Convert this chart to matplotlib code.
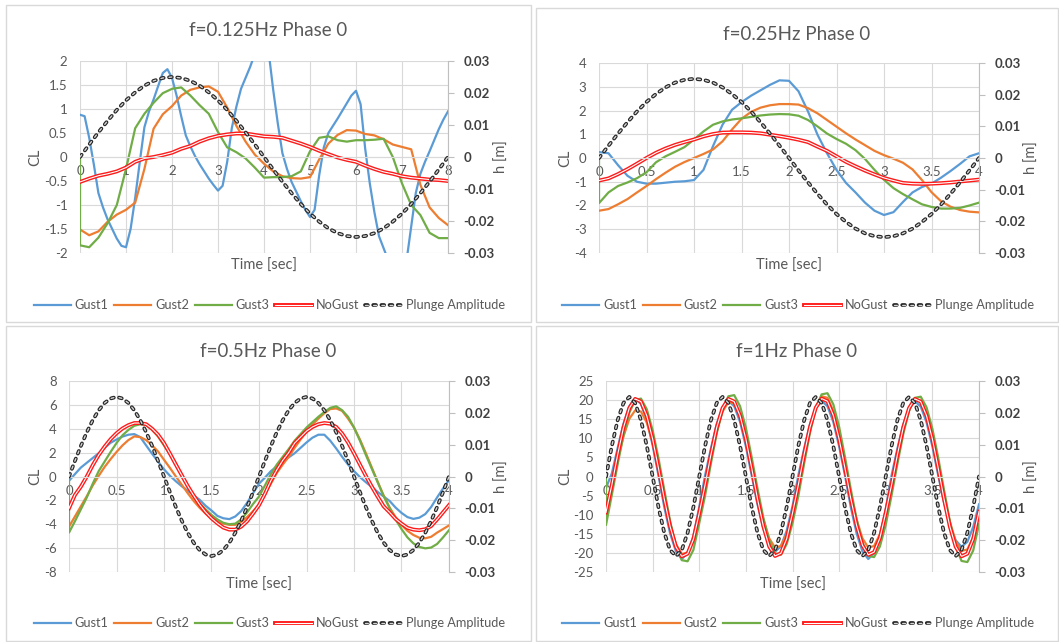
import matplotlib
matplotlib.use("Agg")
import matplotlib.pyplot as plt
import numpy as np
from matplotlib.legend_handler import HandlerTuple
from matplotlib.patches import Rectangle

plt.rcParams['font.family'] = ['Lato', 'DejaVu Sans']
plt.rcParams['lines.scale_dashes'] = False

W, H = 1059, 642
TXT = '#595959'
GRID = '#d9d9d9'
C_G1 = '#5b9bd5'
C_G2 = '#ed7d31'
C_G3 = '#70ad47'
C_NG = '#ff1a1a'

labels = ['Gust1', 'Gust2', 'Gust3', 'NoGust', 'Plunge Amplitude']

# ---------------- f = 0.125 Hz (0..8 s, every 0.2 s; Gust1 every 0.1 s) ----------------
t1 = np.linspace(0, 8, 41)
t1_fine = np.linspace(0, 8, 81)
g1_p1 = [0.88, 0.85, 0.4, -0.15, -0.75, -1.05, -1.3, -1.5, -1.7, -1.85,
         -1.88, -1.5, -0.85, -0.1, 0.62, 0.95, 1.2, 1.48, 1.75, 1.83,
         1.65, 1.28, 0.85, 0.45, 0.22, 0.02, -0.15, -0.3, -0.45, -0.58,
         -0.7, -0.6, -0.1, 0.6, 1.05, 1.42, 1.65, 1.88, 2.15, 2.4,
         2.5, 2.2, 1.4, 0.7, 0.08, -0.25, -0.52, -0.72, -0.92, -1.1,
         -1.25, -1.1, -0.38, 0.2, 0.5, 0.65, 0.8, 0.96, 1.12, 1.28,
         1.38, 1.1, 0.17, -0.55, -1.15, -1.65, -1.9, -2.15, -2.4, -2.5,
         -2.45, -2.15, -1.45, -0.75, -0.35, -0.1, 0.12, 0.35, 0.58, 0.78,
         0.95]
g2_p1 = [-1.51, -1.63, -1.55, -1.35, -1.2, -1.1, -0.95, -0.25, 0.59, 0.89, 1.06,
         1.28, 1.4, 1.45, 1.47, 1.36, 1.03, 0.65, 0.32, 0.05, -0.14,
         -0.3, -0.4, -0.44, -0.45, -0.42, -0.05, 0.28, 0.46, 0.56, 0.55,
         0.48, 0.45, 0.37, 0.26, 0.21, 0.16, -0.58, -1.05, -1.27, -1.42]
# Gust3 starts at 0 and jumps at t=0 (extra leading point)
g3_p1 = [0, -1.84, -1.88, -1.68, -1.38, -1.0, -0.25, 0.6, 0.9, 1.13, 1.33, 1.42,
         1.45, 1.28, 1.08, 0.9, 0.52, 0.2, 0.1, -0.03, -0.22, -0.43,
         -0.42, -0.42, -0.4, -0.3, 0.12, 0.4, 0.43, 0.35, 0.32, 0.35,
         0.35, 0.36, 0.38, 0.0, -0.55, -1.0, -1.21, -1.58, -1.69, -1.69]
ng_p1 = [-0.52, -0.45, -0.39, -0.35, -0.3, -0.22, -0.1, -0.03, 0.0, 0.04, 0.09,
         0.17, 0.23, 0.32, 0.39, 0.44, 0.47, 0.49, 0.49, 0.46, 0.43,
         0.42, 0.4, 0.34, 0.28, 0.21, 0.13, 0.06, -0.01, -0.06, -0.1,
         -0.18, -0.25, -0.31, -0.35, -0.4, -0.43, -0.45, -0.47, -0.48, -0.5]
h_p1 = [0, 0.0039, 0.0077, 0.0113, 0.0147, 0.0177, 0.0202, 0.0223, 0.0238, 0.0247, 0.025,
        0.0247, 0.0238, 0.0223, 0.0202, 0.0177, 0.0147, 0.0113, 0.0077, 0.0039, 0,
        -0.0039, -0.0077, -0.0113, -0.0147, -0.0177, -0.0202, -0.0223, -0.0238, -0.0247, -0.025,
        -0.0247, -0.0238, -0.0223, -0.0202, -0.0177, -0.0147, -0.0113, -0.0077, -0.0039, 0]

# ---------------- f = 0.25 Hz (0..4 s, every 0.1 s) ----------------
t2 = np.linspace(0, 4, 41)
g1_p2 = [0.25, 0.2, -0.3, -0.75, -1.0, -1.08, -1.08, -1.04, -1.0, -0.98, -0.93,
         -0.5, 0.5, 1.4, 2.03, 2.35, 2.62, 2.85, 3.08, 3.27, 3.25,
         2.81, 1.96, 0.98, 0.2, -0.5, -1.05, -1.45, -1.88, -2.22, -2.4,
         -2.28, -1.85, -1.45, -1.22, -1.08, -0.83, -0.55, -0.25, 0.07, 0.2]
g2_p2 = [-2.22, -2.15, -1.95, -1.73, -1.45, -1.18, -0.89, -0.62, -0.37, -0.17, 0.0,
         0.17, 0.36, 0.7, 1.2, 1.65, 1.94, 2.12, 2.22, 2.27, 2.27,
         2.25, 2.1, 1.88, 1.6, 1.32, 1.04, 0.78, 0.54, 0.3, 0.12,
         -0.03, -0.2, -0.48, -0.93, -1.44, -1.82, -2.05, -2.19, -2.26, -2.29]
g3_p2 = [0, -1.9, -1.45, -1.18, -1.03, -0.85, -0.6, -0.18, 0.07, 0.26, 0.46, 0.78,
         1.12, 1.4, 1.54, 1.62, 1.67, 1.73, 1.79, 1.83, 1.85, 1.84,
         1.78, 1.6, 1.33, 1.03, 0.8, 0.6, 0.33, -0.04, -0.5, -0.92,
         -1.27, -1.52, -1.74, -1.95, -2.06, -2.13, -2.13, -2.1, -2.0, -1.88]
ng_p2 = [-0.95, -0.86, -0.68, -0.47, -0.24, 0.0, 0.22, 0.4, 0.55, 0.67, 0.78,
         0.91, 1.01, 1.07, 1.08, 1.08, 1.07, 1.04, 0.98, 0.92, 0.85,
         0.77, 0.67, 0.48, 0.3, 0.07, -0.16, -0.35, -0.53, -0.69, -0.84,
         -0.95, -1.05, -1.08, -1.09, -1.08, -1.06, -1.03, -0.99, -0.95, -0.91]
h_p2 = [0, 0.0039, 0.0077, 0.0113, 0.0147, 0.0177, 0.0202, 0.0223, 0.0238, 0.0247, 0.025,
        0.0247, 0.0238, 0.0223, 0.0202, 0.0177, 0.0147, 0.0113, 0.0077, 0.0039, 0,
        -0.0039, -0.0077, -0.0113, -0.0147, -0.0177, -0.0202, -0.0223, -0.0238, -0.0247, -0.025,
        -0.0247, -0.0238, -0.0223, -0.0202, -0.0177, -0.0147, -0.0113, -0.0077, -0.0039, 0]

# ---------------- f = 0.5 Hz (0..4 s, every 1/16 s) ----------------
t3 = np.linspace(0, 4, 65)
g1_p3 = [-0.36, 0.2, 0.75, 1.15, 1.55, 1.95, 2.4, 2.82, 3.1, 3.34, 3.5, 3.55, 3.3, 2.6, 1.9, 1.25, 0.6,
         0.06, -0.4, -0.82, -1.2, -1.58, -1.95, -2.45, -2.85, -3.3, -3.5, -3.57, -3.35, -2.9, -2.2, -1.4, -0.6,
         -0.1, 0.45, 0.85, 1.2, 1.6, 1.95, 2.4, 2.85, 3.25, 3.5, 3.5, 3.0, 2.35, 1.65, 1.0, 0.45,
         -0.05, -0.48, -0.88, -1.3, -1.68, -2.05, -2.6, -3.05, -3.4, -3.55, -3.45, -3.15, -2.55, -1.75, -1.0, -0.3]
g2_p3 = [-4.2, -3.35, -2.5, -1.65, -0.75, 0.05, 0.8, 1.45, 2.05, 2.6, 3.05, 3.36, 3.3, 3.05, 2.6, 2.1, 1.4,
         0.72, 0.0, -0.7, -1.4, -2.05, -2.62, -3.1, -3.5, -3.75, -3.95, -4.05, -4.05, -3.8, -3.4, -2.9, -2.38,
         -1.5, -0.6, 0.3, 1.0, 1.65, 2.4, 3.1, 3.75, 4.35, 4.85, 5.3, 5.65, 5.7, 5.5, 4.85, 4.1,
         3.1, 1.95, 0.75, -0.45, -1.6, -2.6, -3.4, -4.05, -4.55, -4.9, -5.13, -5.18, -5.05, -4.7, -4.4, -4.1]
g3_p3 = [0, -4.7, -3.75, -2.75, -1.75, -0.6, 0.45, 1.25, 2.05, 2.8, 3.45, 3.9, 4.25, 4.38, 4.32, 3.9, 3.35, 2.6,
         1.85, 1.1, 0.1, -0.85, -1.7, -2.25, -2.75, -3.22, -3.6, -3.88, -4.0, -3.95, -3.6, -3.0, -2.3, -1.68,
         -0.75, 0.2, 1.0, 1.65, 2.3, 3.0, 3.55, 4.1, 4.55, 5.0, 5.4, 5.75, 5.88, 5.55, 5.0, 4.1,
         3.0, 1.8, 0.65, -0.5, -1.65, -2.65, -3.6, -4.4, -5.1, -5.6, -5.9, -6.02, -5.95, -5.65, -5.1, -4.5]
ng_p3 = [-2.66, -1.55, -0.85, 0.0, 0.95, 1.8, 2.5, 3.12, 3.62, 4.02, 4.3, 4.48, 4.48, 4.38, 4.0, 3.5, 2.8,
         1.92, 1.0, 0.1, -0.8, -1.6, -2.35, -2.98, -3.5, -3.92, -4.28, -4.45, -4.45, -4.2, -3.75, -3.1, -2.4,
         -1.45, -0.35, 0.55, 1.35, 2.0, 2.8, 3.3, 3.8, 4.15, 4.38, 4.48, 4.42, 4.15, 3.6, 2.85, 1.95,
         1.0, 0.05, -0.85, -1.7, -2.5, -3.0, -3.55, -3.95, -4.3, -4.45, -4.5, -4.42, -4.15, -3.6, -3.0, -2.4]
h_p3 = [0, 0.0049, 0.0096, 0.0139, 0.0177, 0.0208, 0.0231, 0.0245, 0.025,
        0.0245, 0.0231, 0.0208, 0.0177, 0.0139, 0.0096, 0.0049, 0,
        -0.0049, -0.0096, -0.0139, -0.0177, -0.0208, -0.0231, -0.0245, -0.025,
        -0.0245, -0.0231, -0.0208, -0.0177, -0.0139, -0.0096, -0.0049, 0,
        0.0049, 0.0096, 0.0139, 0.0177, 0.0208, 0.0231, 0.0245, 0.025,
        0.0245, 0.0231, 0.0208, 0.0177, 0.0139, 0.0096, 0.0049, 0,
        -0.0049, -0.0096, -0.0139, -0.0177, -0.0208, -0.0231, -0.0245, -0.025,
        -0.0245, -0.0231, -0.0208, -0.0177, -0.0139, -0.0096, -0.0049, 0]

# ---------------- f = 1 Hz (0..4 s, every 1/16 s) ----------------
t4 = np.linspace(0, 4, 65)
g1_p4 = [-3.0, 0.8, 7.4, 13.8, 18.4, 20.4, 19.0, 14.7, 8.2, 0.3, -8.0, -14.9, -19.6, -21.6, -20.1, -15.6,
         -8.0, 0.3, 7.3, 13.7, 18.0, 19.8, 18.4, 14.3, 7.9, 0.3, -7.3, -13.6, -17.9, -19.7, -18.3, -14.2,
         -7.8, 0.3, 7.3, 13.7, 18.0, 19.8, 18.4, 14.3, 7.9, 0.3, -8.0, -14.9, -19.6, -21.6, -20.1, -15.6,
         -8.6, 0.3, 7.3, 13.6, 17.9, 19.7, 18.3, 14.2, 7.9, 0.3, -6.8, -12.7, -16.7, -18.4, -17.1, -13.2,
         -7.3]
g2_p4 = [-9.5, -2.5, 4.3, 10.5, 15.1, 17.3, 17.0, 14.1, 8.9, 2.5, -5.1, -12.3, -17.7, -20.3, -19.9, -16.5,
         -10.4, -2.8, 4.9, 11.8, 17.0, 19.5, 19.1, 15.9, 10.0, 2.8, -4.7, -11.3, -16.2, -18.6, -18.2, -15.1,
         -9.6, -3.0, 5.3, 12.7, 18.3, 21.0, 20.6, 17.1, 10.8, 3.0, -4.7, -11.3, -16.2, -18.6, -18.2, -15.1,
         -9.6, -2.9, 5.1, 12.2, 17.6, 20.2, 19.8, 16.4, 10.4, 2.9, -4.9, -11.8, -17.0, -19.5, -19.1, -15.9,
         -10.0]
g3_p4 = [0,
         -12.7, -4.8, 3.2, 10.8, 16.7, 20.0, 20.4, 17.6, 12.1, 4.8, -3.5, -11.7, -18.2, -21.9, -22.2, -19.2,
         -12.2, -5.0, 3.4, 11.3, 17.5, 21.0, 21.3, 18.4, 12.7, 5.0, -3.2, -10.8, -16.7, -20.1, -20.5, -17.7,
         -12.2, -5.1, 3.4, 11.5, 17.9, 21.5, 21.8, 18.9, 13.0, 5.1, -3.3, -11.2, -17.3, -20.8, -21.1, -18.3,
         -12.6, -4.9, 3.3, 11.1, 17.2, 20.6, 20.9, 18.1, 12.5, 4.9, -3.5, -11.8, -18.4, -22.1, -22.4, -19.4,
         -12.5]
ng_p4 = [-9.4, -2.2, 5.7, 12.8, 17.9, 20.3, 19.6, 15.9, 9.8, 2.2, -5.9, -13.1, -18.4, -20.9, -20.2, -16.4,
         -9.6, -2.2, 5.7, 12.8, 17.9, 20.3, 19.6, 15.9, 9.8, 2.2, -5.9, -13.0, -18.3, -20.8, -20.1, -16.3,
         -9.6, -2.2, 5.8, 12.9, 18.0, 20.4, 19.7, 16.0, 9.8, 2.2, -5.8, -12.8, -18.0, -20.5, -19.8, -16.1,
         -9.5, -2.2, 5.7, 12.8, 17.9, 20.3, 19.6, 15.9, 9.8, 2.2, -5.9, -13.1, -18.4, -20.9, -20.2, -16.4,
         -9.2]
h_p4 = [0, 0.0096, 0.0177, 0.0231, 0.025, 0.0231, 0.0177, 0.0096, 0, -0.0096, -0.0177, -0.0231, -0.025, -0.0231, -0.0177, -0.0096,
        0, 0.0096, 0.0177, 0.0231, 0.025, 0.0231, 0.0177, 0.0096, 0, -0.0096, -0.0177, -0.0231, -0.025, -0.0231, -0.0177, -0.0096,
        0, 0.0096, 0.0177, 0.0231, 0.025, 0.0231, 0.0177, 0.0096, 0, -0.0096, -0.0177, -0.0231, -0.025, -0.0231, -0.0177, -0.0096,
        0, 0.0096, 0.0177, 0.0231, 0.025, 0.0231, 0.0177, 0.0096, 0, -0.0096, -0.0177, -0.0231, -0.025, -0.0231, -0.0177, -0.0096,
        0]

h_ticks = [-0.03, -0.02, -0.01, 0, 0.01, 0.02, 0.03]
h_labels = ['-0.03', '-0.02', '-0.01', '0', '0.01', '0.02', '0.03']

fig = plt.figure(figsize=(W / 100, H / 100), dpi=100)


def fx(px):
    return px / W


def fy(py):
    return 1 - py / H


def panel(box, plot, leg_y, title, t, tg1, g1, g2, g3, ng, h, xmax, xstep, ymax, ystep):
    # panel frame (pixel coords, origin top-left)
    x0, y0, x1, y1 = box
    fig.add_artist(Rectangle((fx(x0), fy(y1)), fx(x1 - x0), (y1 - y0) / H,
                             transform=fig.transFigure, fill=False, ec=GRID, lw=1))
    px0, py0, px1, py1 = plot
    ax = fig.add_axes([fx(px0), fy(py1), fx(px1 - px0), (py1 - py0) / H])

    l1, = ax.plot(tg1, g1, color=C_G1, lw=1.6)
    l2, = ax.plot(t, g2, color=C_G2, lw=1.6)
    l3, = ax.plot(np.r_[0, t], g3, color=C_G3, lw=1.6)
    n_out, = ax.plot(t, ng, color=C_NG, lw=2.8)
    n_in, = ax.plot(t, ng, color='white', lw=0.8)

    xt = np.arange(0, xmax + 1e-9, xstep)
    yt = np.arange(-ymax, ymax + 1e-9, ystep)
    ax.set_xlim(0, xmax)
    ax.set_ylim(-ymax, ymax)
    ax.set_xticks(xt)
    ax.set_xticklabels([f'{v:g}' for v in xt])
    ax.set_yticks(yt)
    ax.set_yticklabels([f'{v:g}' for v in yt])
    ax.grid(True, color=GRID, lw=0.8)
    ax.set_axisbelow(True)
    for s in ['left', 'top', 'right']:
        ax.spines[s].set_visible(False)
    ax.spines['bottom'].set_position(('data', 0))
    ax.spines['bottom'].set_color(GRID)
    ax.tick_params(axis='x', length=0, pad=6, labelcolor=TXT, labelsize=9.5)
    ax.tick_params(axis='y', length=0, pad=9, labelcolor=TXT, labelsize=9.5)

    # plunge amplitude on the secondary axis
    ax2 = ax.twinx()
    p_out, = ax2.plot(t_h[id(h)], h, color='#262626', lw=2.7, ls=(0, (2.0, 3.9)),
                      dash_capstyle='round')
    p_in, = ax2.plot(t_h[id(h)], h, color='#d4d4d4', lw=1.0, ls=(0, (2.0, 3.9)),
                     dash_capstyle='round')
    ax2.set_ylim(-0.03, 0.03)
    ax2.set_yticks(h_ticks)
    ax2.set_yticklabels(h_labels, fontweight='bold', color='#404040', fontsize=9.5)
    for s in ['left', 'top', 'bottom']:
        ax2.spines[s].set_visible(False)
    ax2.spines['right'].set_color('#bfbfbf')
    ax2.tick_params(axis='y', length=4, color='#bfbfbf', pad=7)

    cx = (x0 + x1) / 2
    mid = (px0 + px1) / 2
    ycl = py0 + (py1 - py0) / 2
    fig.text(fx(cx), fy(y0 + 26), title, ha='center', va='center', fontsize=13.5, color=TXT)
    fig.text(fx(mid), fy(py1 + 13), 'Time [sec]', ha='center', va='center', fontsize=10.5, color=TXT)
    fig.text(fx(x0 + 29), fy(ycl), 'CL', rotation=90, ha='center', va='center', fontsize=10.5, color=TXT)
    fig.text(fx(x0 + 496), fy(ycl), 'h [m]', rotation=90, ha='center', va='center', fontsize=10.5, color=TXT)

    ax.legend([l1, l2, l3, (n_out, n_in), (p_out, p_in)], labels,
              loc='center', bbox_to_anchor=(fx(cx + 1), fy(leg_y)),
              bbox_transform=fig.transFigure, ncol=5, frameon=False, fontsize=9.2,
              handlelength=2.9, handletextpad=0.3, columnspacing=0.45, labelcolor=TXT,
              handler_map={tuple: HandlerTuple(ndivide=1, pad=0)})


t_h = {id(h_p1): t1, id(h_p2): t2, id(h_p3): t3, id(h_p4): t4}

panel((6, 5, 531, 322), (80, 61, 448, 253), 305, 'f=0.125Hz Phase 0',
      t1, t1_fine, g1_p1, g2_p1, g3_p1, ng_p1, h_p1, 8, 1, 2, 0.5)
panel((536, 8, 1058, 322), (599, 63, 979, 253), 305, 'f=0.25Hz Phase 0',
      t2, t2, g1_p2, g2_p2, g3_p2, ng_p2, h_p2, 4, 0.5, 4, 1)
panel((6, 326, 531, 641), (69, 381, 449, 572), 623, 'f=0.5Hz Phase 0',
      t3, t3, g1_p3, g2_p3, g3_p3, ng_p3, h_p3, 4, 0.5, 8, 2)
panel((536, 326, 1058, 641), (606, 381, 979, 572), 623, 'f=1Hz Phase 0',
      t4, t4, g1_p4, g2_p4, g3_p4, ng_p4, h_p4, 4, 0.5, 25, 5)

fig.savefig('out.png', dpi=100, facecolor='white')
